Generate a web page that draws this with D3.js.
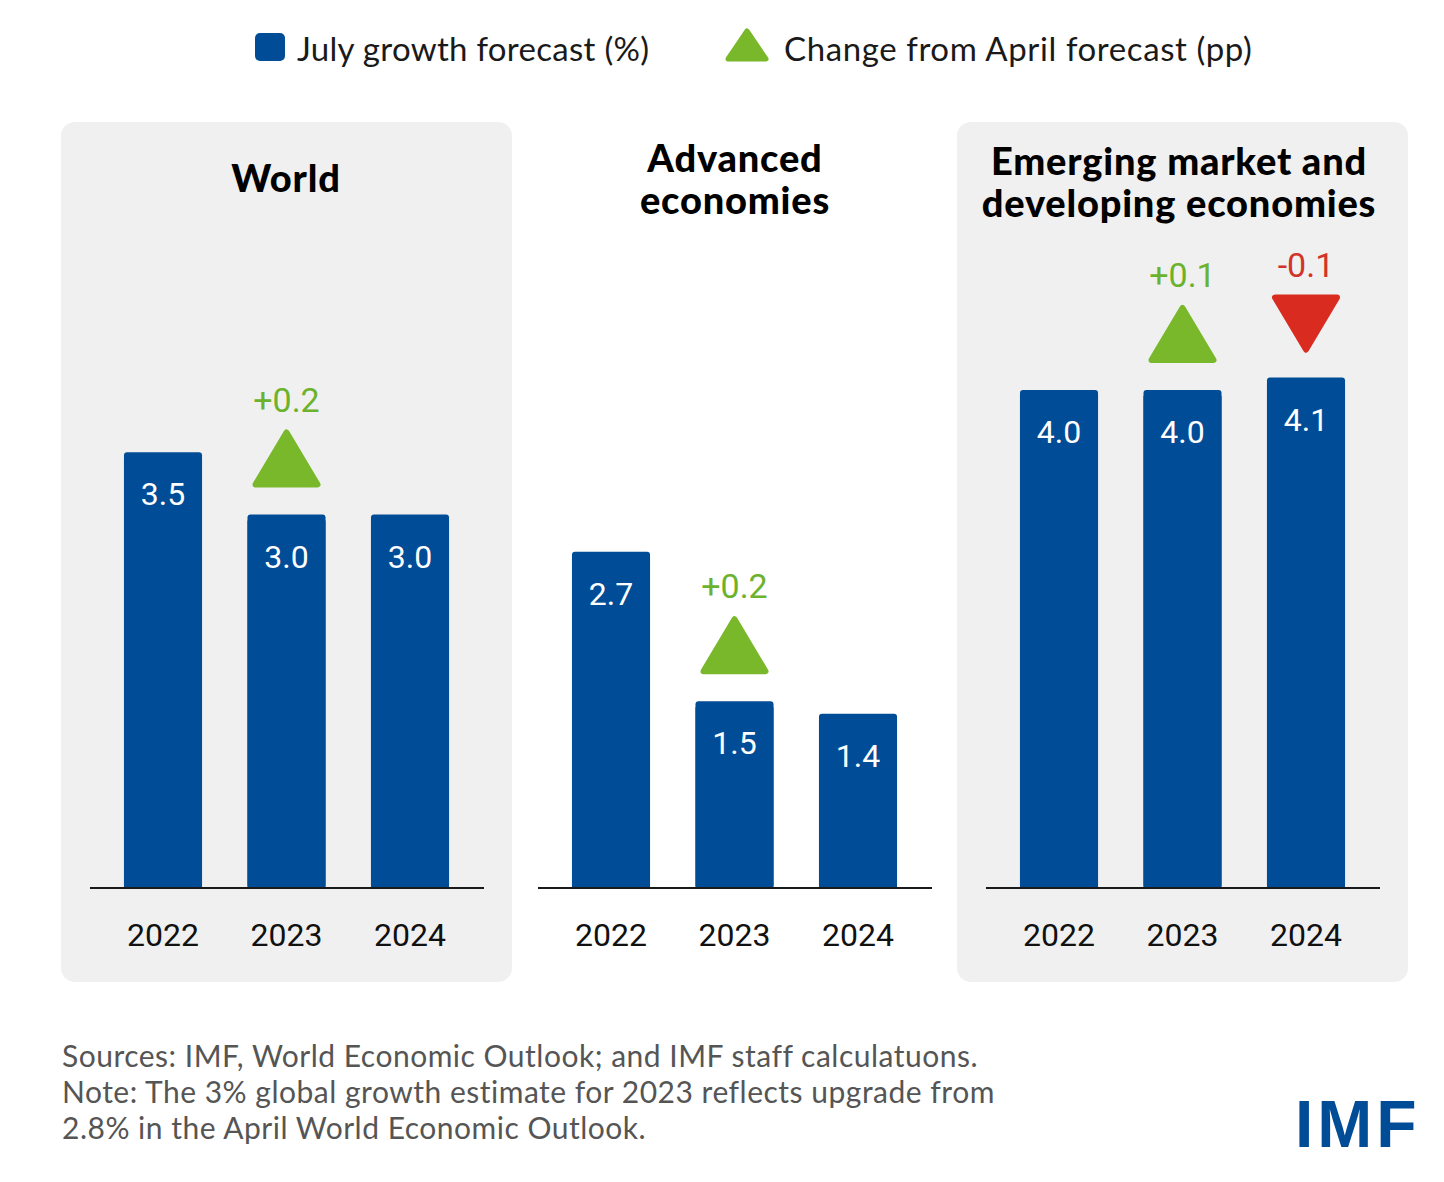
<!DOCTYPE html>
<html>
<head>
<meta charset="utf-8">
<script src="https://cdn.jsdelivr.net/npm/d3@7"></script>
<style>
  html, body { margin: 0; padding: 0; background: #ffffff; }
  svg { display: block; }
</style>
</head>
<body>
<svg id="chart" width="1444" height="1182"></svg>
<script>
// ---------- DATA ----------
const categories = ["2022", "2023", "2024"];
const panelTitles = [["World"], ["Advanced", "economies"], ["Emerging market and", "developing economies"]];
const worldValues = [3.5, 3.0, 3.0];
const advancedValues = [2.7, 1.5, 1.4];
const emergingValues = [4.0, 4.0, 4.1];
const worldChange = [null, 0.2, null];
const advancedChange = [null, 0.2, null];
const emergingChange = [null, 0.1, -0.1];
const legendLabels = ["July growth forecast (%)", "Change from April forecast (pp)"];
const footnoteLines = [
  "Sources: IMF, World Economic Outlook; and IMF staff calculatuons.",
  "Note: The 3% global growth estimate for 2023 reflects upgrade from",
  "2.8% in the April World Economic Outlook."
];

// ---------- STYLE ----------
const BLUE = "#004c97";
const GREEN = "#78b82a";
const GREEN_TXT = "#6cb22c";
const RED = "#d92b1f";
const RED_TXT = "#d0342a";
const PANEL_BG = "#f0f0f0";
const TEXT_FONT = "Lato, 'Open Sans', sans-serif";
const NUM_FONT = "Roboto, 'Noto Sans', sans-serif";

const svg = d3.select("#chart");

const panels = [
  { values: worldValues, change: worldChange, title: panelTitles[0], offset: 0, bg: true, titleY: [192], tdx: 0 },
  { values: advancedValues, change: advancedChange, title: panelTitles[1], offset: 448, bg: false, titleY: [172, 214], tdx: 1 },
  { values: emergingValues, change: emergingChange, title: panelTitles[2], offset: 896, bg: true, titleY: [175, 217], tdx: -3 }
];

// shared y scale
const y = d3.scaleLinear().domain([0, 4]).range([888, 390]);

function triPath(cx, yTop, w, h, up) {
  const hw = w / 2;
  if (up) return `M${cx},${yTop} L${cx + hw},${yTop + h} L${cx - hw},${yTop + h} Z`;
  return `M${cx - hw},${yTop} L${cx + hw},${yTop} L${cx},${yTop + h} Z`;
}

panels.forEach((p) => {
  const g = svg.append("g").attr("transform", `translate(${p.offset},0)`);
  if (p.bg) {
    g.append("rect").attr("x", 61).attr("y", 122).attr("width", 451).attr("height", 860)
      .attr("rx", 14).attr("fill", PANEL_BG);
  }
  const x = d3.scaleBand().domain(categories).range([101.25, 471.75])
    .paddingInner(0.368).paddingOuter(0.184);

  // title
  p.title.forEach((line, i) => {
    g.append("text").attr("x", 286 + p.tdx).attr("y", p.titleY[i])
      .attr("text-anchor", "middle")
      .attr("font-family", TEXT_FONT).attr("font-weight", 900)
      .attr("font-size", 38).attr("letter-spacing", 0.8).attr("fill", "#000").text(line);
  });

  // bars
  g.selectAll("rect.bar").data(p.values).join("rect").attr("class", "bar")
    .attr("x", (d, i) => x(categories[i]))
    .attr("y", d => y(d))
    .attr("width", x.bandwidth())
    .attr("height", d => y(0) - y(d))
    .attr("rx", 3)
    .attr("fill", BLUE);
  g.selectAll("rect.barfix").data(p.values).join("rect").attr("class", "barfix")
    .attr("x", (d, i) => x(categories[i]))
    .attr("y", d => y(d) + 6)
    .attr("width", x.bandwidth())
    .attr("height", d => y(0) - y(d) - 6)
    .attr("fill", BLUE);

  // value labels
  g.selectAll("text.val").data(p.values).join("text").attr("class", "val")
    .attr("x", (d, i) => x(categories[i]) + x.bandwidth() / 2)
    .attr("y", d => y(d) + 53)
    .attr("text-anchor", "middle")
    .attr("font-family", NUM_FONT).attr("font-size", 32)
    .attr("fill", "#fff").text(d => d.toFixed(1));

  // baseline axis
  const axis = d3.axisBottom(x).tickSize(0).tickPadding(0);
  const ag = g.append("g").attr("transform", `translate(0,${y(0)})`).call(axis);
  ag.select(".domain").remove();
  ag.append("line").attr("x1", 90).attr("x2", 484).attr("y1", 0).attr("y2", 0)
    .attr("stroke", "#1a1a1a").attr("stroke-width", 2);
  ag.selectAll(".tick text")
    .attr("dy", null).attr("y", 58)
    .attr("font-family", NUM_FONT).attr("font-size", 32)
    .attr("fill", "#111");

  // change markers
  p.change.forEach((c, i) => {
    if (c === null) return;
    const bx = x(categories[i]) + x.bandwidth() / 2;
    const top = y(p.values[i]);
    const up = c > 0;
    const triH = 52, triW = 62;
    const tTop = up ? top - 27 - 3 - triH : top - 25 - 3 - triH;
    g.append("path").attr("d", triPath(bx, tTop, triW, triH, up))
      .attr("fill", up ? GREEN : RED)
      .attr("stroke", up ? GREEN : RED)
      .attr("stroke-width", 6).attr("stroke-linejoin", "round");
    g.append("text").attr("x", bx).attr("y", tTop - 3 - 18)
      .attr("text-anchor", "middle")
      .attr("font-family", NUM_FONT).attr("font-size", 34)
      .attr("fill", up ? GREEN_TXT : RED_TXT)
      .text((up ? "+" : "-") + Math.abs(c).toFixed(1));
  });
});

// ---------- LEGEND ----------
const lg = svg.append("g");
lg.append("rect").attr("x", 255).attr("y", 33).attr("width", 30).attr("height", 28)
  .attr("rx", 5).attr("fill", BLUE);
lg.append("text").attr("x", 297).attr("y", 61)
  .attr("font-family", TEXT_FONT).attr("font-weight", 400).attr("font-size", 33)
  .attr("letter-spacing", 0.3).attr("fill", "#1a1a1a").text(legendLabels[0]);
lg.append("path").attr("d", triPath(747, 31, 38, 28, true))
  .attr("fill", GREEN).attr("stroke", GREEN).attr("stroke-width", 5).attr("stroke-linejoin", "round");
lg.append("text").attr("x", 784).attr("y", 61)
  .attr("font-family", TEXT_FONT).attr("font-weight", 400).attr("font-size", 33)
  .attr("letter-spacing", 0.6).attr("fill", "#1a1a1a").text(legendLabels[1]);

// ---------- FOOTNOTE ----------
footnoteLines.forEach((t, i) => {
  svg.append("text").attr("x", 62).attr("y", 1067 + i * 36)
    .attr("font-family", TEXT_FONT).attr("font-weight", 400).attr("font-size", 30)
    .attr("letter-spacing", 0.5).attr("fill", "#555").text(t);
});

// ---------- LOGO ----------
svg.append("text").attr("x", 1295).attr("y", 1147)
  .attr("font-family", "'Liberation Sans', Arial, sans-serif").attr("font-weight", 700)
  .attr("font-size", 66).attr("fill", BLUE).attr("letter-spacing", 4).text("IMF");
</script>
</body>
</html>
